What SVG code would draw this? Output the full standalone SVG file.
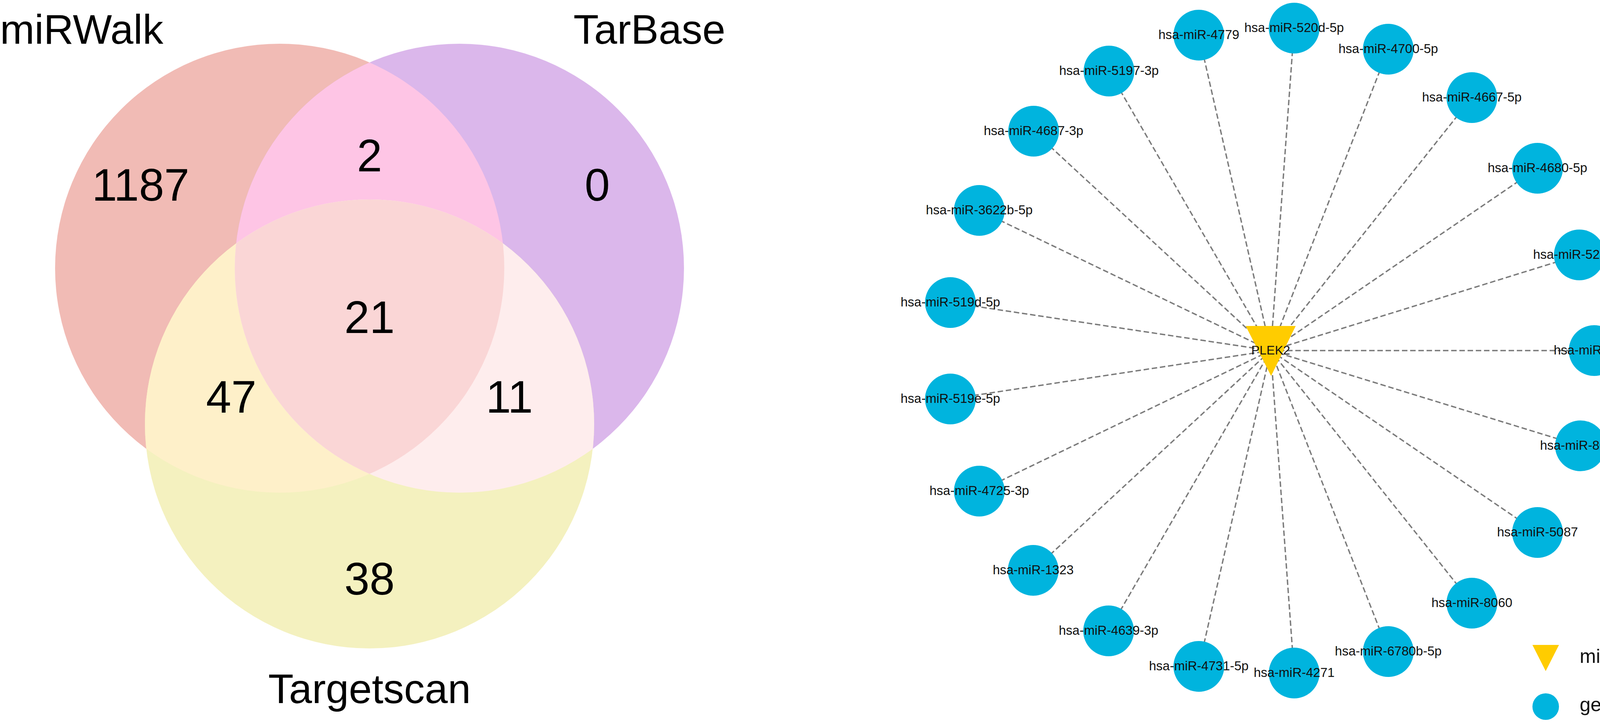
<svg xmlns="http://www.w3.org/2000/svg" width="4212" height="1852" viewBox="0 0 4212 1852">
<style>
.set{font-family:"Liberation Sans",Arial,sans-serif;font-size:106px;fill:#000}
.num{font-family:"Liberation Sans",Arial,sans-serif;font-size:116px;fill:#000;text-anchor:middle}
.lbl{font-family:"Liberation Sans",Arial,sans-serif;font-size:33px;fill:#111;text-anchor:middle}
.leg{font-family:"Liberation Sans",Arial,sans-serif;font-size:50px;fill:#111}
.gene{fill:#00B4DE}
.mir{fill:#FFCC00}
.edge{stroke:#7A7A7A;stroke-width:3.5;stroke-dasharray:14 7;fill:none}
</style>
<defs>
<clipPath id="cR"><circle cx="716" cy="687" r="575"/></clipPath>
<clipPath id="cP"><circle cx="1176" cy="687" r="575"/></clipPath>
</defs>
<rect width="4212" height="1852" fill="#FFFFFF"/>
<g id="venn">
<circle id="set-miRWalk" cx="716" cy="687" r="575" fill="#F1BBB5"/>
<circle id="set-TarBase" cx="1176" cy="687" r="575" fill="#DBB7EB"/>
<circle id="set-Targetscan" cx="946" cy="1086" r="575" fill="#F4F1BF"/>
<g clip-path="url(#cR)"><circle cx="1176" cy="687" r="575" fill="#FEC5E5"/></g>
<g clip-path="url(#cR)"><circle cx="946" cy="1086" r="575" fill="#FEF0C9"/></g>
<g clip-path="url(#cP)"><circle cx="946" cy="1086" r="575" fill="#FEEDED"/></g>
<g clip-path="url(#cP)"><g clip-path="url(#cR)"><circle cx="946" cy="1086" r="575" fill="#FAD6D6"/></g></g>
<text class="set" x="0" y="112">miRWalk</text>
<text class="set" x="1468" y="112">TarBase</text>
<text class="set" x="946" y="1801" text-anchor="middle">Targetscan</text>
<text class="num" x="360" y="514">1187</text>
<text class="num" x="946" y="439">2</text>
<text class="num" x="1529" y="514">0</text>
<text class="num" x="946" y="853">21</text>
<text class="num" x="592" y="1057">47</text>
<text class="num" x="1304" y="1057">11</text>
<text class="num" x="946" y="1523">38</text>
</g>
<g id="edges">
<line class="edge" x1="3253" y1="898" x2="3313" y2="72"/>
<line class="edge" x1="3253" y1="898" x2="3554" y2="126"/>
<line class="edge" x1="3253" y1="898" x2="3768" y2="250"/>
<line class="edge" x1="3253" y1="898" x2="3936" y2="431"/>
<line class="edge" x1="3253" y1="898" x2="4043" y2="653"/>
<line class="edge" x1="3253" y1="898" x2="4081" y2="898"/>
<line class="edge" x1="3253" y1="898" x2="4046" y2="1142"/>
<line class="edge" x1="3253" y1="898" x2="3936" y2="1364"/>
<line class="edge" x1="3253" y1="898" x2="3768" y2="1545"/>
<line class="edge" x1="3253" y1="898" x2="3554" y2="1669"/>
<line class="edge" x1="3253" y1="898" x2="3313" y2="1724"/>
<line class="edge" x1="3253" y1="898" x2="3069" y2="1707"/>
<line class="edge" x1="3253" y1="898" x2="2838" y2="1616"/>
<line class="edge" x1="3253" y1="898" x2="2645" y2="1461"/>
<line class="edge" x1="3253" y1="898" x2="2507" y2="1258"/>
<line class="edge" x1="3253" y1="898" x2="2433" y2="1022"/>
<line class="edge" x1="3253" y1="898" x2="2433" y2="775"/>
<line class="edge" x1="3253" y1="898" x2="2507" y2="539"/>
<line class="edge" x1="3253" y1="898" x2="2646" y2="336"/>
<line class="edge" x1="3253" y1="898" x2="2839" y2="182"/>
<line class="edge" x1="3253" y1="898" x2="3069" y2="90"/>
</g>
<g id="node-PLEK2"><polygon class="mir" points="3189,835 3317,835 3254,963"/><text class="lbl" x="3253" y="908" style="font-size:32px">PLEK2</text></g>
<g id="node-520d-5p"><circle class="gene" cx="3313" cy="72" r="65"/><text class="lbl" x="3313" y="82">hsa-miR-520d-5p</text></g>
<g id="node-4700-5p"><circle class="gene" cx="3554" cy="126" r="65"/><text class="lbl" x="3554" y="136">hsa-miR-4700-5p</text></g>
<g id="node-4667-5p"><circle class="gene" cx="3768" cy="250" r="65"/><text class="lbl" x="3768" y="260">hsa-miR-4667-5p</text></g>
<g id="node-4680-5p"><circle class="gene" cx="3936" cy="431" r="65"/><text class="lbl" x="3936" y="441">hsa-miR-4680-5p</text></g>
<g id="node-524-5p"><circle class="gene" cx="4043" cy="653" r="65"/><text class="lbl" x="4043" y="663">hsa-miR-524-5p</text></g>
<g id="node-4533"><circle class="gene" cx="4081" cy="898" r="65"/><text class="lbl" x="4081" y="908">hsa-miR-4533</text></g>
<g id="node-8089"><circle class="gene" cx="4046" cy="1142" r="65"/><text class="lbl" x="4046" y="1152">hsa-miR-8089</text></g>
<g id="node-5087"><circle class="gene" cx="3936" cy="1364" r="65"/><text class="lbl" x="3936" y="1374">hsa-miR-5087</text></g>
<g id="node-8060"><circle class="gene" cx="3768" cy="1545" r="65"/><text class="lbl" x="3768" y="1555">hsa-miR-8060</text></g>
<g id="node-6780b-5p"><circle class="gene" cx="3554" cy="1669" r="65"/><text class="lbl" x="3554" y="1679">hsa-miR-6780b-5p</text></g>
<g id="node-4271"><circle class="gene" cx="3313" cy="1724" r="65"/><text class="lbl" x="3313" y="1734">hsa-miR-4271</text></g>
<g id="node-4731-5p"><circle class="gene" cx="3069" cy="1707" r="65"/><text class="lbl" x="3069" y="1717">hsa-miR-4731-5p</text></g>
<g id="node-4639-3p"><circle class="gene" cx="2838" cy="1616" r="65"/><text class="lbl" x="2838" y="1626">hsa-miR-4639-3p</text></g>
<g id="node-1323"><circle class="gene" cx="2645" cy="1461" r="65"/><text class="lbl" x="2645" y="1471">hsa-miR-1323</text></g>
<g id="node-4725-3p"><circle class="gene" cx="2507" cy="1258" r="65"/><text class="lbl" x="2507" y="1268">hsa-miR-4725-3p</text></g>
<g id="node-519e-5p"><circle class="gene" cx="2433" cy="1022" r="65"/><text class="lbl" x="2433" y="1032">hsa-miR-519e-5p</text></g>
<g id="node-519d-5p"><circle class="gene" cx="2433" cy="775" r="65"/><text class="lbl" x="2433" y="785">hsa-miR-519d-5p</text></g>
<g id="node-3622b-5p"><circle class="gene" cx="2507" cy="539" r="65"/><text class="lbl" x="2507" y="549">hsa-miR-3622b-5p</text></g>
<g id="node-4687-3p"><circle class="gene" cx="2646" cy="336" r="65"/><text class="lbl" x="2646" y="346">hsa-miR-4687-3p</text></g>
<g id="node-5197-3p"><circle class="gene" cx="2839" cy="182" r="65"/><text class="lbl" x="2839" y="192">hsa-miR-5197-3p</text></g>
<g id="node-4779"><circle class="gene" cx="3069" cy="90" r="65"/><text class="lbl" x="3069" y="100">hsa-miR-4779</text></g>
<g id="legend">
<polygon class="mir" points="3923,1652 3991,1652 3957,1719"/>
<text class="leg" x="4044" y="1698">miRNA</text>
<circle class="gene" cx="3957" cy="1810" r="34"/>
<text class="leg" x="4044" y="1822">gene</text>
</g>
</svg>
